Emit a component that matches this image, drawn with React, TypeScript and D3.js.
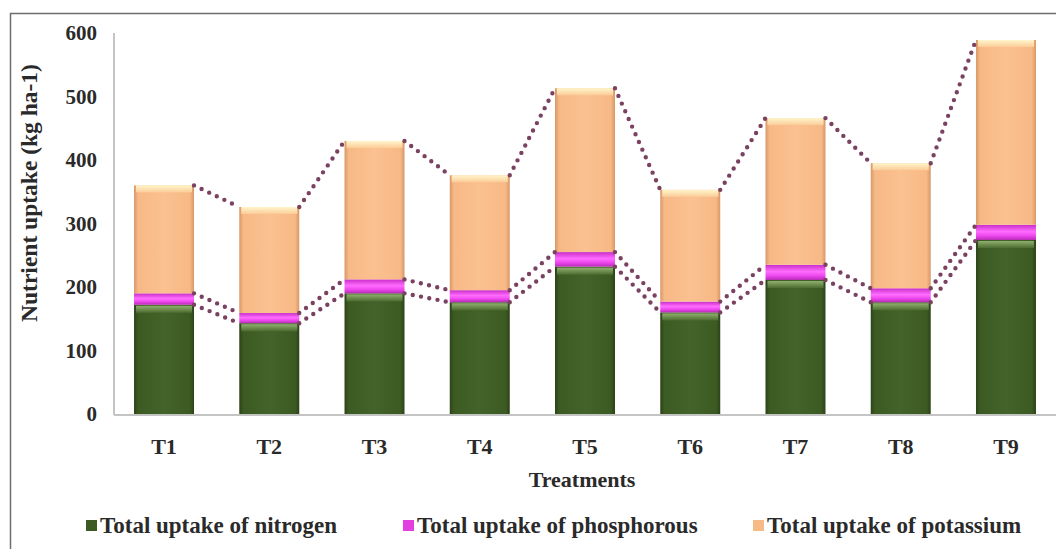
import * as d3 from "d3";
import React, { useEffect, useRef } from "react";

const categories = ["T1", "T2", "T3", "T4", "T5", "T6", "T7", "T8", "T9"];
const nitrogen = [172, 143, 190, 176, 232, 160, 211, 176, 274];
const phosphorus = [18, 16, 22, 19, 23, 17, 24, 22, 24];
const potassium = [170, 167, 218, 181, 258, 176, 231, 197, 291];
const yTicks = [0, 100, 200, 300, 400, 500, 600];

const seriesKeys = ["nitrogen", "phosphorus", "potassium"];
const seriesNames = [
  "Total uptake of nitrogen",
  "Total uptake of phosphorous",
  "Total uptake of potassium",
];

const W = 1056;
const H = 549;
const FONT = "'Liberation Serif', 'Times New Roman', serif";

const App: React.FC = () => {
  const ref = useRef<SVGSVGElement | null>(null);

  useEffect(() => {
    if (!ref.current) return;
    const svg = d3.select(ref.current);
    svg.selectAll("*").remove();

    const rows = categories.map((c, i) => ({
      cat: c,
      nitrogen: nitrogen[i],
      phosphorus: phosphorus[i],
      potassium: potassium[i],
    }));
    const stacked = d3.stack<any>().keys(seriesKeys)(rows);

    const x = d3
      .scaleBand<string>()
      .domain(categories)
      .range([111.4, 1058.6])
      .paddingInner(0.43)
      .paddingOuter(0.215);
    const y = d3.scaleLinear().domain([0, 600]).range([414, 33]);
    const bw = x.bandwidth();

    // gradients
    const defs = svg.append("defs");
    const hGrad = (id: string, edge: string, base: string, mid: string) => {
      const g = defs.append("linearGradient").attr("id", id).attr("x1", 0).attr("x2", 1).attr("y1", 0).attr("y2", 0);
      [
        [0, edge],
        [0.07, base],
        [0.5, mid],
        [0.93, base],
        [1, edge],
      ].forEach(([o, c]) => g.append("stop").attr("offset", o as number).attr("stop-color", c as string));
    };
    const vGrad = (id: string, stops: [number, string][]) => {
      const g = defs.append("linearGradient").attr("id", id).attr("x1", 0).attr("x2", 0).attr("y1", 0).attr("y2", 1);
      stops.forEach(([o, c]) => g.append("stop").attr("offset", o).attr("stop-color", c));
    };
    hGrad("g-nitrogen", "#2c4218", "#3c5b22", "#42632a");
    hGrad("g-potassium", "#d89768", "#f7b986", "#fbc190");
    vGrad("g-phosphorus", [
      [0, "#c92ec8"],
      [0.45, "#ff6cff"],
      [0.7, "#f04af0"],
      [1, "#b82ab6"],
    ]);
    vGrad("hl-nitrogen", [
      [0, "#8fb06e"],
      [1, "#4c6d30"],
    ]);
    vGrad("hl-potassium", [
      [0, "#fff6cc"],
      [1, "#fbcc98"],
    ]);

    const fills: Record<string, string> = {
      nitrogen: "url(#g-nitrogen)",
      phosphorus: "url(#g-phosphorus)",
      potassium: "url(#g-potassium)",
    };

    // frame
    svg.append("path").attr("d", `M10.5,${H} V13.5 H${W}`).attr("fill", "none").attr("stroke", "#6e6e6e").attr("stroke-width", 1.5);

    // bars
    stacked.forEach((s) => {
      const key = s.key;
      const g = svg.append("g");
      g.selectAll("rect.seg")
        .data(s)
        .enter()
        .append("rect")
        .attr("class", "seg")
        .attr("x", (d: any) => x(d.data.cat)!)
        .attr("y", (d: any) => y(d[1]))
        .attr("width", bw)
        .attr("height", (d: any) => y(d[0]) - y(d[1]))
        .attr("fill", fills[key]);
      if (key !== "phosphorus") {
        g.selectAll("rect.hl")
          .data(s)
          .enter()
          .append("rect")
          .attr("class", "hl")
          .attr("x", (d: any) => x(d.data.cat)! + 2)
          .attr("y", (d: any) => y(d[1]) + (key === "nitrogen" ? 1 : 0))
          .attr("width", bw - 4)
          .attr("height", 7)
          .attr("fill", `url(#hl-${key})`);
      }
    });

    // series lines
    stacked.forEach((s) => {
      for (let i = 0; i < s.length - 1; i++) {
        const a = s[i];
        const b = s[i + 1];
        svg
          .append("line")
          .attr("x1", x(a.data.cat)! + bw)
          .attr("y1", y(a[1]))
          .attr("x2", x(b.data.cat)!)
          .attr("y2", y(b[1]))
          .attr("stroke", "#7a4260")
          .attr("stroke-width", 4.4)
          .attr("stroke-linecap", "round")
          .attr("stroke-dasharray", "0 8.4");
      }
    });

    // axes lines
    svg.append("line").attr("x1", 114).attr("x2", W).attr("y1", y(0) + 1).attr("y2", y(0) + 1).attr("stroke", "#c4c4c4").attr("stroke-width", 2);
    svg.append("line").attr("x1", 114).attr("x2", 114).attr("y1", y(600)).attr("y2", y(0) + 1).attr("stroke", "#c4c4c4").attr("stroke-width", 2);

    // y tick labels
    svg
      .append("g")
      .selectAll("text")
      .data(yTicks)
      .enter()
      .append("text")
      .attr("x", 97)
      .attr("y", (d) => y(d) + 7)
      .attr("text-anchor", "end")
      .attr("font-family", FONT)
      .attr("font-weight", "bold")
      .attr("font-size", 21)
      .attr("fill", "#2a2a2a")
      .text((d) => d);

    // x tick labels
    svg
      .append("g")
      .selectAll("text")
      .data(categories)
      .enter()
      .append("text")
      .attr("x", (d) => x(d)! + bw / 2)
      .attr("y", 454)
      .attr("text-anchor", "middle")
      .attr("font-family", FONT)
      .attr("font-weight", "bold")
      .attr("font-size", 22)
      .attr("fill", "#2a2a2a")
      .text((d) => d);

    // axis titles
    svg
      .append("text")
      .attr("x", 582)
      .attr("y", 487)
      .attr("text-anchor", "middle")
      .attr("font-family", FONT)
      .attr("font-weight", "bold")
      .attr("font-size", 22)
      .attr("fill", "#2a2a2a")
      .text("Treatments");
    svg
      .append("text")
      .attr("transform", "translate(37,193) rotate(-90)")
      .attr("text-anchor", "middle")
      .attr("font-family", FONT)
      .attr("font-weight", "bold")
      .attr("font-size", 23.5)
      .attr("fill", "#2a2a2a")
      .text("Nutrient  uptake (kg ha-1)");

    // legend
    const legendX = [86, 403, 753];
    const legendColors = ["#3c5b22", "#e23ee0", "#f7b986"];
    const lg = svg.append("g");
    seriesNames.forEach((name, i) => {
      lg.append("rect").attr("x", legendX[i]).attr("y", 520).attr("width", 11).attr("height", 11).attr("fill", legendColors[i]);
      lg.append("text")
        .attr("x", legendX[i] + 14)
        .attr("y", 533)
        .attr("font-family", FONT)
        .attr("font-weight", "bold")
        .attr("font-size", 23)
        .attr("fill", "#2a2a2a")
        .text(name);
    });
  }, []);

  return (
    <svg
      ref={ref}
      width={W}
      height={H}
      style={{ position: "absolute", left: 0, top: 0, background: "#fff" }}
    ></svg>
  );
};

export default App;
